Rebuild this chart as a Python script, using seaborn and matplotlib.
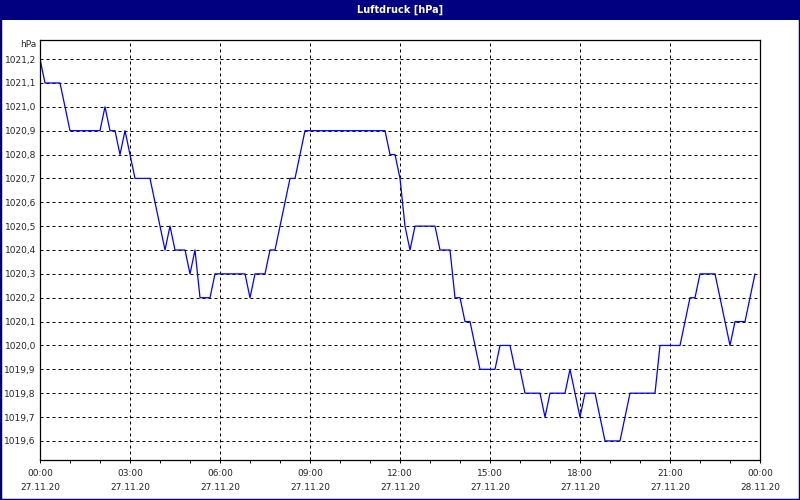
import pandas as pd
import numpy as np
import seaborn as sns
import matplotlib.pyplot as plt
import matplotlib.dates as mdates
from matplotlib.patches import Rectangle
from matplotlib.ticker import FuncFormatter

# Luftdruck 27.11.20, Stützpunkte (Uhrzeit, hPa)
zeit = ["00:00", "00:10", "00:40", "01:00", "02:00", "02:10", "02:20", "02:30",
        "02:40", "02:50", "03:10", "03:40", "03:50", "04:00", "04:10", "04:20",
        "04:30", "04:50", "05:00", "05:10", "05:20", "05:40", "05:50", "06:50",
        "07:00", "07:10", "07:30", "07:40", "07:50", "08:20", "08:30", "08:50",
        "11:30", "11:40", "11:50", "12:00", "12:10", "12:20", "12:30", "13:10",
        "13:20", "13:40", "13:50", "14:00", "14:10", "14:20", "14:40", "15:10",
        "15:20", "15:40", "15:50", "16:00", "16:10", "16:40", "16:50", "17:00",
        "17:30", "17:40", "17:50", "18:00", "18:10", "18:30", "18:50", "19:20",
        "19:40", "20:30", "20:40", "21:20", "21:40", "21:50", "22:00", "22:30",
        "23:00", "23:10", "23:30", "23:50"]
druck = [1021.2, 1021.1, 1021.1, 1020.9, 1020.9, 1021.0, 1020.9, 1020.9,
         1020.8, 1020.9, 1020.7, 1020.7, 1020.6, 1020.5, 1020.4, 1020.5,
         1020.4, 1020.4, 1020.3, 1020.4, 1020.2, 1020.2, 1020.3, 1020.3,
         1020.2, 1020.3, 1020.3, 1020.4, 1020.4, 1020.7, 1020.7, 1020.9,
         1020.9, 1020.8, 1020.8, 1020.7, 1020.5, 1020.4, 1020.5, 1020.5,
         1020.4, 1020.4, 1020.2, 1020.2, 1020.1, 1020.1, 1019.9, 1019.9,
         1020.0, 1020.0, 1019.9, 1019.9, 1019.8, 1019.8, 1019.7, 1019.8,
         1019.8, 1019.9, 1019.8, 1019.7, 1019.8, 1019.8, 1019.6, 1019.6,
         1019.8, 1019.8, 1020.0, 1020.0, 1020.2, 1020.2, 1020.3, 1020.3,
         1020.0, 1020.1, 1020.1, 1020.3]
y_ticks = [1019.6, 1019.7, 1019.8, 1019.9, 1020.0, 1020.1, 1020.2, 1020.3,
           1020.4, 1020.5, 1020.6, 1020.7, 1020.8, 1020.9, 1021.0, 1021.1, 1021.2]

df = pd.DataFrame({"zeit": pd.to_datetime(["2020-11-27 " + z for z in zeit]),
                   "druck": druck})

sns.set_style("white")
plt.rcParams['font.family'] = ['DejaVu Sans']
navy = "#000080"

fig = plt.figure(figsize=(8, 5), dpi=100)
ax = fig.add_axes([40 / 800, 40 / 500, 720 / 800, 420 / 500])

sns.lineplot(data=df, x="zeit", y="druck", color="#0000ff", linewidth=0.9, ax=ax)

ax.set_xlim(pd.Timestamp("2020-11-27 00:00"), pd.Timestamp("2020-11-28 00:00"))
ax.set_ylim(1019.52, 1021.28)
ax.set_yticks(y_ticks)
ax.yaxis.set_major_formatter(FuncFormatter(lambda v, p: f"{v:.1f}".replace(".", ",")))
ax.xaxis.set_major_locator(mdates.HourLocator(interval=3))
ax.xaxis.set_minor_locator(mdates.HourLocator())
ax.xaxis.set_major_formatter(mdates.DateFormatter("%H:%M\n%d.%m.%y"))
ax.set_xlabel("")
ax.set_ylabel("")

ax.grid(True, which="major", color="black", linestyle=(0, (3, 3)), linewidth=0.72)
ax.tick_params(axis="x", which="both", direction="out", length=2.5, width=0.72,
               color="black", labelsize=6.5, pad=4, bottom=True)
ax.tick_params(axis="y", length=0, labelsize=6.5, pad=3)
for lbl in ax.get_xticklabels():
    lbl.set_linespacing(1.75)
for s in ax.spines.values():
    s.set_color("black")
    s.set_linewidth(0.9)

ax.text(-4 / 720, 1 - 4 / 420, "hPa", transform=ax.transAxes, ha="right",
        va="center", fontsize=6.5)

# Titelleiste und Rahmen
fig.patches.append(Rectangle((0, 1 - 20 / 500), 1, 20 / 500, transform=fig.transFigure,
                             facecolor=navy, edgecolor="none", zorder=0))
fig.patches.append(Rectangle((0, 0), 1, 1, transform=fig.transFigure,
                             facecolor="none", edgecolor=navy, linewidth=2.5, zorder=5))
fig.text(0.5, 1 - 10 / 500, "Luftdruck [hPa]", color="white", fontweight="bold",
         ha="center", va="center", fontsize=7)

plt.savefig("out.png", dpi=100)
